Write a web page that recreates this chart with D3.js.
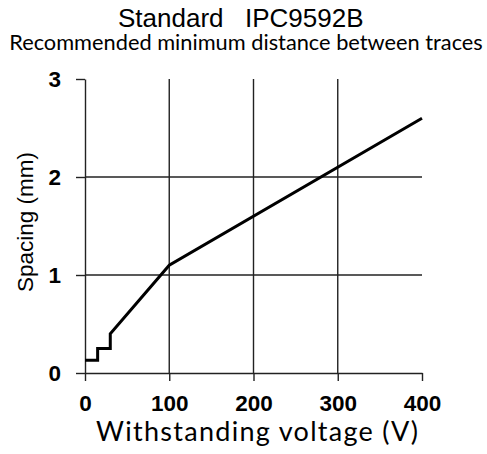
<!DOCTYPE html>
<html>
<head>
<meta charset="utf-8">
<script src="https://cdn.jsdelivr.net/npm/d3@7"></script>
<style>
  body { margin: 0; background: #fff; }
</style>
</head>
<body>
<div id="chart"></div>
<script>
// IPC9592B spacing vs voltage

var voltage = [0, 15, 15, 30, 30, 100, 400];          // V
var spacing = [0.13, 0.13, 0.25, 0.25, 0.4, 1.1, 2.6]; // mm
var xTicks = [0, 100, 200, 300, 400];
var yTicks = [0, 1, 2, 3];

var width = 487,
    height = 454;

var svg = d3.select("#chart").append("svg")
    .attr("width", width)
    .attr("height", height);

var x = d3.scaleLinear().domain([0, 400]).range([85, 422]);
var y = d3.scaleLinear().domain([0, 3]).range([373, 79]);

// grid
svg.append("g")
   .selectAll("line.v")
   .data(xTicks.slice(1, 4))
   .enter().append("line")
   .attr("x1", d => x(d)).attr("x2", d => x(d))
   .attr("y1", y(3)).attr("y2", y(0))
   .attr("stroke", "#222").attr("stroke-width", 1.4);

svg.append("g")
   .selectAll("line.h")
   .data(yTicks.slice(1, 3))
   .enter().append("line")
   .attr("x1", x(0)).attr("x2", x(400))
   .attr("y1", d => y(d)).attr("y2", d => y(d))
   .attr("stroke", "#222").attr("stroke-width", 1.4);

// axes
var xAxis = svg.append("g")
   .attr("transform", "translate(0," + y(0) + ")")
   .call(d3.axisBottom(x).tickValues(xTicks).tickFormat(d3.format("d"))
         .tickSize(8).tickSizeOuter(0).tickPadding(14));

var yAxis = svg.append("g")
   .attr("transform", "translate(" + x(0) + ",0)")
   .call(d3.axisLeft(y).tickValues(yTicks).tickFormat(d3.format("d"))
         .tickSize(9).tickSizeOuter(0).tickPadding(15));

[xAxis, yAxis].forEach(function(g) {
  g.select(".domain").attr("stroke", "#222").attr("stroke-width", 1.4);
  g.selectAll(".tick line").attr("stroke", "#222").attr("stroke-width", 1.4);
  g.selectAll(".tick text")
   .attr("fill", "#000")
   .style("font-family", "'Liberation Sans', Arial, sans-serif")
   .style("font-weight", "bold")
   .style("font-size", "22.5px");
});

// the curve
var line = d3.line()
    .x((d, i) => x(voltage[i]))
    .y((d, i) => y(spacing[i]));

svg.append("path")
   .datum(voltage)
   .attr("fill", "none")
   .attr("stroke", "#000")
   .attr("stroke-width", 3)
   .attr("d", line);

// fit a text to a wanted width by its font size
function fitWidth(sel, w) {
  var fs = parseFloat(sel.style("font-size"));
  var cur = sel.node().getComputedTextLength();
  sel.style("font-size", (fs * w / cur) + "px");
}

// titles
var title = svg.append("text")
   .attr("y", 27)
   .style("font-family", "'Liberation Sans', Arial, sans-serif")
   .style("font-size", "26px");
title.append("tspan").attr("x", 118).text("Standard");
title.append("tspan").attr("x", 245).text("IPC9592B");

var sub = svg.append("text")
   .attr("x", 246).attr("y", 50)
   .attr("text-anchor", "middle")
   .style("font-family", "Lato, sans-serif")
   .style("font-size", "20px")
   .text("Recommended minimum distance between traces");
fitWidth(sub, 474);

// calibri-like: keep cap height, stretch spacing to the wanted width
svg.append("text")
   .attr("x", 257).attr("y", 441)
   .attr("text-anchor", "middle")
   .attr("textLength", 322)
   .attr("lengthAdjust", "spacing")
   .style("font-family", "Lato, sans-serif")
   .style("font-size", "27px")
   .text("Withstanding voltage (V)");

svg.append("text")
   .attr("transform", "translate(33,222) rotate(-90)")
   .attr("text-anchor", "middle")
   .style("font-family", "'Liberation Sans', Arial, sans-serif")
   .style("font-size", "22.5px")
   .text("Spacing (mm)");
</script>
</body>
</html>
